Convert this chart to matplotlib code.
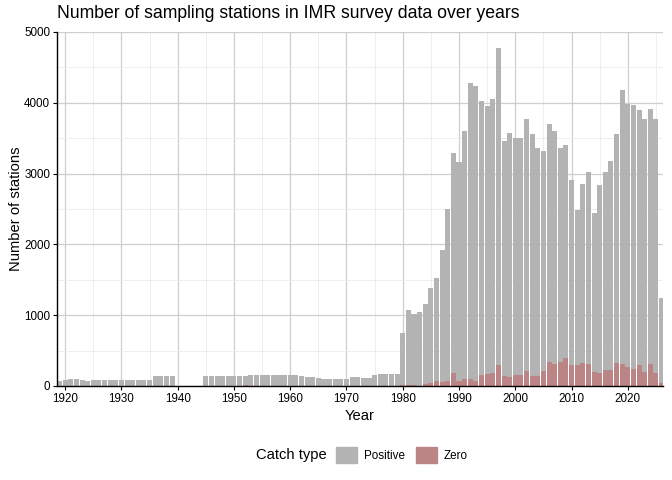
import numpy as np
import matplotlib
matplotlib.use("Agg")
import matplotlib.pyplot as plt
from matplotlib.patches import Patch

plt.rcParams['font.family'] = ['Liberation Sans', 'DejaVu Sans']

# Data: total stations per year and the "Zero" catch part
years = np.arange(1919, 2027)
total = [65, 80, 95, 95, 85, 70,
         80, 80, 80, 80, 80, 80, 80, 80, 80, 80, 80,
         136, 136, 136, 136,
         0, 0, 0, 0, 0,
         136, 136, 136, 136, 136, 136, 136, 136,
         150, 150, 150, 150, 150, 150, 150, 150, 150,
         140, 132, 125, 110, 105, 105, 105, 105, 105, 132, 132, 110, 120, 150,
         165, 165, 165, 165,
         754, 1069, 1022, 1041, 1154, 1380, 1521, 1917, 2496, 3288,
         3170, 3608, 4277, 4244, 4032, 3952, 4051, 4772, 3457, 3580,
         3500, 3500, 3768, 3556, 3358, 3316, 3698, 3599, 3358, 3401,
         2906, 2482, 2850, 3019, 2440, 2836, 3019, 3175, 3556, 4178,
         3980, 3966, 3895, 3768, 3910, 3768, 1239]
zero = [0] * 33 + [15] + [0] * 27 + [
        19, 14, 19, 0, 24, 38, 66, 52, 66, 179,
        66, 94, 94, 66, 151, 165, 179, 292, 137, 122,
        151, 151, 207, 137, 137, 207, 334, 306, 334, 391,
        292, 292, 320, 306, 193, 179, 221, 221, 320, 306,
        264, 236, 292, 193, 306, 179, 38]
total = np.array(total)
zero = np.array(zero)
positive = total - zero

col_pos = "#B3B3B3"
col_zero = "#BC8585"

fig = plt.figure(figsize=(6.72, 4.8), dpi=100)
ax = fig.add_axes([57/672, 1 - 386/480, (663 - 57)/672, (386 - 32)/480])

ax.bar(years, zero, width=0.9, color=col_zero, zorder=3)
ax.bar(years, positive, width=0.9, bottom=zero, color=col_pos, zorder=3)

ax.set_xlim(1918.55, 2026.25)
ax.set_ylim(0, 5000)
ax.set_xticks(np.arange(1920, 2030, 10))
ax.set_xticks(np.arange(1925, 2030, 10), minor=True)
ax.set_yticks(np.arange(0, 5001, 1000))
ax.set_yticks(np.arange(500, 5000, 1000), minor=True)
ax.grid(which='major', color='#CFCFCF', linewidth=0.9, zorder=0)
ax.grid(which='minor', color='#EBEBEB', linewidth=0.6, zorder=0)
ax.tick_params(which='major', length=3, width=0.8, color='black', labelsize=8.4,
               labelcolor='black', pad=2)
ax.tick_params(which='minor', length=0)
for s in ['top', 'right']:
    ax.spines[s].set_visible(False)
for s in ['left', 'bottom']:
    ax.spines[s].set_color('black')
    ax.spines[s].set_linewidth(1.0)
    ax.spines[s].set_zorder(4)

ax.set_xlabel("Year", fontsize=10.6, labelpad=3)
ax.set_ylabel("Number of stations", fontsize=10.6, labelpad=1)
fig.text(57/672, 1 - 14/480, "Number of sampling stations in IMR survey data over years",
         fontsize=12.7, ha='left', va='center')

# legend
fig.text(256/672, 1 - 455/480, "Catch type", fontsize=10.6, ha='left', va='center')
handles = [Patch(color=col_pos), Patch(color=col_zero)]
fig.legend(handles, ["Positive", "Zero"], loc='center left',
           bbox_to_anchor=(336/672, 1 - 455/480), ncol=2, frameon=False,
           fontsize=8.4, handlelength=1.8, handleheight=1.8, handletextpad=0.6,
           columnspacing=0.95, borderpad=0, borderaxespad=0)

fig.savefig("out.png", dpi=100)
